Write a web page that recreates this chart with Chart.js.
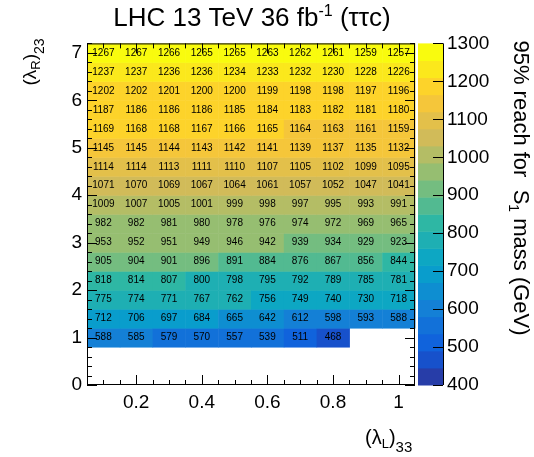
<!DOCTYPE html>
<html>
<head>
<meta charset="utf-8">
<script src="https://cdn.jsdelivr.net/npm/chart.js@4.4.0/dist/chart.umd.min.js"></script>
<style>
  html, body { margin: 0; padding: 0; background: #fff; }
</style>
</head>
<body>
<canvas id="myChart" width="534" height="457"></canvas>
<script>
// columns: (lambda_L)_33, rows: (lambda_R)_23
const lambdaL = [0.1, 0.2, 0.3, 0.4, 0.5, 0.6, 0.7, 0.8, 0.9, 1.0];
const lambdaR = [1.0, 1.4, 1.8, 2.2, 2.6, 3.0, 3.4, 3.8, 4.2, 4.6, 5.0, 5.4, 5.8, 6.2, 6.6, 7.0];

// 95% reach (GeV), one row per lambdaR value, bottom to top
const reach = [
  [588, 585, 579, 570, 557, 539, 511, 468],
  [712, 706, 697, 684, 665, 642, 612, 598, 593, 588],
  [775, 774, 771, 767, 762, 756, 749, 740, 730, 718],
  [818, 814, 807, 800, 798, 795, 792, 789, 785, 781],
  [905, 904, 901, 896, 891, 884, 876, 867, 856, 844],
  [953, 952, 951, 949, 946, 942, 939, 934, 929, 923],
  [982, 982, 981, 980, 978, 976, 974, 972, 969, 965],
  [1009, 1007, 1005, 1001, 999, 998, 997, 995, 993, 991],
  [1071, 1070, 1069, 1067, 1064, 1061, 1057, 1052, 1047, 1041],
  [1114, 1114, 1113, 1111, 1110, 1107, 1105, 1102, 1099, 1095],
  [1145, 1145, 1144, 1143, 1142, 1141, 1139, 1137, 1135, 1132],
  [1169, 1168, 1168, 1167, 1166, 1165, 1164, 1163, 1161, 1159],
  [1187, 1186, 1186, 1186, 1185, 1184, 1183, 1182, 1181, 1180],
  [1202, 1202, 1201, 1200, 1200, 1199, 1198, 1198, 1197, 1196],
  [1237, 1237, 1236, 1236, 1234, 1233, 1232, 1230, 1228, 1226],
  [1267, 1267, 1266, 1265, 1265, 1263, 1262, 1261, 1259, 1257]
];

const xTicks = [0.2, 0.4, 0.6, 0.8, 1.0];
const yTicks = [0, 1, 2, 3, 4, 5, 6, 7];
const zTicks = [400, 500, 600, 700, 800, 900, 1000, 1100, 1200, 1300];

const zMin = 400, zMax = 1300, nLevels = 20;
const cellW = 0.1, cellH = 0.4;

// ROOT kBird palette
const birdStops = [0, 0.125, 0.25, 0.375, 0.5, 0.625, 0.75, 0.875, 1];
const birdR = [0.2082, 0.0592, 0.0780, 0.0232, 0.1802, 0.5301, 0.8186, 0.9956, 0.9764];
const birdG = [0.1664, 0.3599, 0.5041, 0.6419, 0.7178, 0.7492, 0.7328, 0.7862, 0.9832];
const birdB = [0.5293, 0.8684, 0.8385, 0.7914, 0.6425, 0.4662, 0.3499, 0.1968, 0.0539];

function bird(t) {
  let i = 0;
  while (i < birdStops.length - 2 && t > birdStops[i + 1]) i++;
  const f = (t - birdStops[i]) / (birdStops[i + 1] - birdStops[i]);
  const c = a => Math.round(255 * (a[i] + f * (a[i + 1] - a[i])));
  return 'rgb(' + c(birdR) + ',' + c(birdG) + ',' + c(birdB) + ')';
}

function levelColor(k) {
  return bird(Math.floor((k + 0.99) * 255 / nLevels) / 254);
}

function valueColor(v) {
  let k = Math.floor((v - zMin) / ((zMax - zMin) / nLevels));
  k = Math.max(0, Math.min(nLevels - 1, k));
  return levelColor(k);
}

const points = [];
reach.forEach((row, j) => {
  row.forEach((v, i) => points.push({ x: lambdaL[i], y: lambdaR[j], v: v }));
});

// draws a string made of normal / sub / superscript pieces
function richText(ctx, parts, x, y, align) {
  let w = 0;
  parts.forEach(p => { ctx.font = p.size + 'px "Liberation Sans", Arial, sans-serif'; w += ctx.measureText(p.t).width; });
  let cx = align === 'center' ? x - w / 2 : x;
  ctx.textAlign = 'left';
  ctx.textBaseline = 'alphabetic';
  parts.forEach(p => {
    ctx.font = p.size + 'px "Liberation Sans", Arial, sans-serif';
    ctx.fillText(p.t, cx, y + (p.dy || 0));
    cx += ctx.measureText(p.t).width;
  });
}

const heatmap = {
  id: 'heatmap',
  beforeDatasetsDraw(chart) {
    const ctx = chart.ctx, xs = chart.scales.x, ys = chart.scales.y, zs = chart.scales.z;
    const area = chart.chartArea;
    ctx.save();
    points.forEach(p => {
      const x0 = xs.getPixelForValue(p.x - cellW / 2), x1 = xs.getPixelForValue(p.x + cellW / 2);
      const y0 = ys.getPixelForValue(p.y + cellH / 2), y1 = ys.getPixelForValue(p.y - cellH / 2);
      ctx.fillStyle = valueColor(p.v);
      ctx.fillRect(x0, y0, x1 - x0 + 0.5, y1 - y0 + 0.5);
    });
    // colour bar
    const bx0 = area.right + 3, bx1 = area.right + 28;
    const step = (zMax - zMin) / nLevels;
    for (let k = 0; k < nLevels; k++) {
      const t = zs.getPixelForValue(zMin + (k + 1) * step), b = zs.getPixelForValue(zMin + k * step);
      ctx.fillStyle = levelColor(k);
      ctx.fillRect(bx0, t, bx1 - bx0, b - t + 0.5);
    }
    ctx.restore();
  },
  afterDatasetsDraw(chart) {
    const ctx = chart.ctx, xs = chart.scales.x, ys = chart.scales.y, zs = chart.scales.z;
    const area = chart.chartArea;
    ctx.save();
    ctx.fillStyle = '#000';
    ctx.font = '10px "Liberation Sans", Arial, sans-serif';
    ctx.textAlign = 'center';
    ctx.textBaseline = 'middle';
    points.forEach(p => {
      ctx.fillText(String(p.v), xs.getPixelForValue(p.x), ys.getPixelForValue(p.y));
    });

    // frame and ticks (ROOT style, pointing inward)
    ctx.strokeStyle = '#000';
    ctx.lineWidth = 1;
    ctx.strokeRect(area.left + 0.5, area.top + 0.5, area.right - area.left - 1, area.bottom - area.top - 1);
    ctx.beginPath();
    for (let i = 2; i <= 20; i++) {
      const v = i * 0.05;
      const px = Math.round(xs.getPixelForValue(v)) + 0.5;
      const len = (i % 4 === 0) ? 10 : 5;
      ctx.moveTo(px, area.bottom); ctx.lineTo(px, area.bottom - len);
      ctx.moveTo(px, area.top); ctx.lineTo(px, area.top + len);
    }
    for (let i = 0; i <= 36; i++) {
      const v = i * 0.2;
      const py = Math.round(ys.getPixelForValue(v)) + 0.5;
      const len = (i % 5 === 0) ? 10 : 5;
      ctx.moveTo(area.left, py); ctx.lineTo(area.left + len, py);
      ctx.moveTo(area.right, py); ctx.lineTo(area.right - len, py);
    }
    // colour bar axis
    const bx1 = area.right + 28;
    ctx.moveTo(bx1 + 0.5, area.top); ctx.lineTo(bx1 + 0.5, area.bottom);
    zTicks.forEach(v => {
      const py = Math.round(zs.getPixelForValue(v)) + 0.5;
      ctx.moveTo(bx1, py); ctx.lineTo(bx1 - 10, py);
    });
    ctx.stroke();

    // texts
    richText(ctx, [
      { t: 'LHC 13 TeV 36 fb', size: 26 },
      { t: '-1', size: 16, dy: -10 },
      { t: ' (\u03c4\u03c4c)', size: 26 }
    ], 252, 26, 'center');

    richText(ctx, [
      { t: '(\u03bb', size: 20 },
      { t: 'L', size: 13, dy: 4 },
      { t: ')', size: 20 },
      { t: '33', size: 15, dy: 8 }
    ], 365, 444, 'left');

    ctx.save();
    ctx.translate(36, 62);
    ctx.rotate(-Math.PI / 2);
    richText(ctx, [
      { t: '(\u03bb', size: 19 },
      { t: 'R', size: 13, dy: 4 },
      { t: ')', size: 19 },
      { t: '23', size: 14, dy: 8 }
    ], 0, 0, 'center');
    ctx.restore();

    ctx.save();
    ctx.translate(514, 188);
    ctx.rotate(Math.PI / 2);
    richText(ctx, [
      { t: '95% reach for  S', size: 22 },
      { t: '1', size: 14, dy: 5 },
      { t: ' mass (GeV)', size: 22 }
    ], 0, 0, 'center');
    ctx.restore();
    ctx.restore();
  }
};

const tickFont = { family: '"Liberation Sans", Arial, sans-serif', size: 19 };

const myChart = new Chart(document.getElementById('myChart'), {
  type: 'scatter',
  data: {
    datasets: [{
      label: 'reach',
      data: points,
      pointRadius: 0,
      pointHoverRadius: 0
    }]
  },
  options: {
    responsive: false,
    animation: false,
    devicePixelRatio: 1,
    layout: { padding: { top: 37, left: 0, right: 0, bottom: 0 } },
    plugins: {
      legend: { display: false },
      tooltip: { enabled: false },
      title: { display: false }
    },
    scales: {
      x: {
        type: 'linear',
        min: 0.05,
        max: 1.05,
        grid: { display: false, drawTicks: false },
        border: { display: false },
        afterBuildTicks: axis => { axis.ticks = xTicks.map(v => ({ value: v })); },
        afterFit: axis => { axis.height = 72; },
        ticks: {
          color: '#000',
          font: tickFont,
          padding: 6,
          maxRotation: 0,
          autoSkip: false,
          callback: v => (v === 1 ? '1' : v.toFixed(1))
        }
      },
      y: {
        type: 'linear',
        position: 'left',
        min: 0,
        max: 7.2,
        grid: { display: false, drawTicks: false },
        border: { display: false },
        afterBuildTicks: axis => { axis.ticks = yTicks.map(v => ({ value: v })); },
        afterFit: axis => { axis.width = 87; },
        ticks: { color: '#000', font: tickFont, padding: 5, autoSkip: false, callback: v => String(v) }
      },
      z: {
        type: 'linear',
        position: 'right',
        min: zMin,
        max: zMax,
        grid: { display: false, drawTicks: false },
        border: { display: false },
        afterBuildTicks: axis => { axis.ticks = zTicks.map(v => ({ value: v })); },
        afterFit: axis => { axis.width = 119; },
        ticks: { color: '#000', font: tickFont, padding: 32, autoSkip: false, callback: v => String(v) }
      }
    }
  },
  plugins: [heatmap]
});
</script>
</body>
</html>
